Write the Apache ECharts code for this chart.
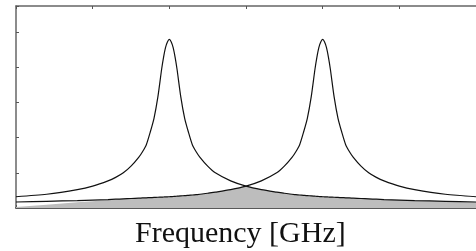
<!DOCTYPE html>
<html>
<head>
<meta charset="utf-8">
<script src="https://cdn.jsdelivr.net/npm/echarts@6/dist/echarts.min.js"></script>
<style>
  html, body { margin: 0; padding: 0; background: #fff; }
  #chart { width: 476px; height: 251px; }
</style>
</head>
<body>
<div id="chart"></div>
<script>
"use strict";

// frequency samples (arbitrary units, peaks at 20 and 40)
var freq = [0, 4, 8, 10, 12, 13, 14, 15, 16, 16.5, 17, 17.5, 18, 18.5, 19, 19.25, 19.5, 19.75, 20, 20.25, 20.5, 20.75, 21, 21.5, 22, 22.5, 23, 23.5, 24, 25, 26, 28,
    30,
    32, 34, 35, 36, 36.5, 37, 37.5, 38, 38.5, 39, 39.25, 39.5, 39.75, 40, 40.25, 40.5, 40.75, 41, 41.5, 42, 42.5, 43, 43.5, 44, 45, 46, 47, 48, 50, 52, 56, 60];

// first resonance
var peakA = [0.32, 0.39, 0.52, 0.62, 0.77, 0.87, 1.00, 1.19, 1.44, 1.60, 1.80, 2.15, 2.55, 3.15, 3.95, 4.29, 4.56, 4.72, 4.79, 4.72, 4.56, 4.29, 3.95, 3.15, 2.55, 2.15, 1.80, 1.60, 1.44, 1.19, 1.00, 0.77,
    0.62,
    0.52, 0.45, 0.42, 0.39, 0.38, 0.37, 0.36, 0.35, 0.345, 0.335, 0.33, 0.327, 0.323, 0.32, 0.318, 0.315, 0.312, 0.31, 0.305, 0.30, 0.295, 0.29, 0.285, 0.28, 0.27, 0.26, 0.25, 0.24, 0.225, 0.21, 0.19, 0.17];

// second resonance
var peakB = [0.17, 0.19, 0.21, 0.225, 0.24, 0.25, 0.26, 0.27, 0.28, 0.285, 0.29, 0.295, 0.30, 0.305, 0.31, 0.312, 0.315, 0.318, 0.32, 0.323, 0.327, 0.33, 0.335, 0.345, 0.35, 0.36, 0.37, 0.38, 0.39, 0.42, 0.45, 0.52,
    0.62,
    0.77, 1.00, 1.19, 1.44, 1.60, 1.80, 2.15, 2.55, 3.15, 3.95, 4.29, 4.56, 4.72, 4.79, 4.72, 4.56, 4.29, 3.95, 3.15, 2.55, 2.15, 1.80, 1.60, 1.44, 1.19, 1.00, 0.87, 0.77, 0.62, 0.52, 0.39, 0.32];

// shaded overlap of the two
var overlap = [0.03, 0.09, 0.16, 0.19, 0.225, 0.25, 0.26, 0.27, 0.28, 0.285, 0.29, 0.295, 0.30, 0.305, 0.31, 0.312, 0.315, 0.318, 0.32, 0.323, 0.327, 0.33, 0.335, 0.345, 0.35, 0.36, 0.37, 0.38, 0.39, 0.42, 0.45, 0.52,
    0.62,
    0.52, 0.45, 0.42, 0.39, 0.38, 0.37, 0.36, 0.35, 0.345, 0.335, 0.33, 0.327, 0.323, 0.32, 0.318, 0.315, 0.312, 0.31, 0.305, 0.30, 0.295, 0.29, 0.285, 0.28, 0.27, 0.26, 0.25, 0.24, 0.225, 0.21, 0.19, 0.17];

function pairs(ys) {
    var out = [];
    for (var i = 0; i < freq.length; i++) {
        out.push([freq[i], ys[i]]);
    }
    return out;
}

var dom = document.getElementById("chart");
var myChart = echarts.init(dom);

var tickStyle = { show: true, inside: true, length: 3, lineStyle: { color: '#555', width: 1 } };

var option = {
    animation: false,
    title: {
        text: 'Frequency [GHz]',
        left: 135,
        top: 219,
        padding: 0,
        textStyle: {
            fontFamily: 'Liberation Serif',
            fontWeight: 'normal',
            fontSize: 30,
            color: '#111'
        }
    },
    grid: {
        left: 16,
        top: 6,
        right: -3,
        bottom: 43
    },
    xAxis: [
        {
            type: 'value',
            min: 0,
            max: 60,
            interval: 10,
            axisLine: { show: true, lineStyle: { color: '#222', width: 1.5 } },
            axisTick: tickStyle,
            axisLabel: { show: false },
            splitLine: { show: false }
        },
        {
            type: 'value',
            position: 'top',
            min: 0,
            max: 60,
            interval: 10,
            axisLine: { show: true, lineStyle: { color: '#666', width: 1.5 } },
            axisTick: tickStyle,
            axisLabel: { show: false },
            splitLine: { show: false }
        }
    ],
    yAxis: {
        type: 'value',
        min: 0,
        max: 5.74,
        interval: 1,
        axisLine: { show: true, lineStyle: { color: '#666', width: 1.5 } },
        axisTick: tickStyle,
        axisLabel: { show: false },
        splitLine: { show: false }
    },
    series: [
        {
            name: 'overlap',
            type: 'line',
            data: pairs(overlap),
            showSymbol: false,
            lineStyle: { width: 0 },
            areaStyle: { color: '#bdbdbd', opacity: 1 },
            z: 1
        },
        {
            name: 'A',
            type: 'line',
            data: pairs(peakA),
            smooth: 0.25,
            showSymbol: false,
            lineStyle: { color: '#111', width: 1.2 },
            z: 3
        },
        {
            name: 'B',
            type: 'line',
            data: pairs(peakB),
            smooth: 0.25,
            showSymbol: false,
            lineStyle: { color: '#111', width: 1.2 },
            z: 3
        }
    ]
};

myChart.setOption(option);
</script>
</body>
</html>
